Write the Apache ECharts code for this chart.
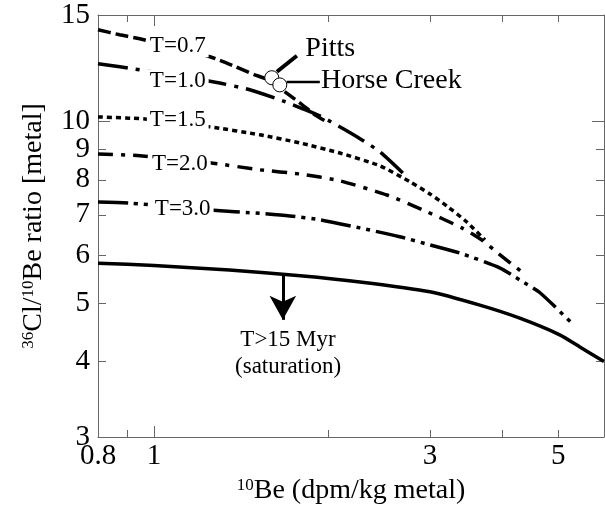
<!DOCTYPE html>
<html><head><meta charset="utf-8">
<script src="https://cdn.jsdelivr.net/npm/echarts@6/dist/echarts.min.js"></script>
<style>html,body{margin:0;padding:0;background:#fff}#c{width:605px;height:510px}</style>
</head><body><div id="c"></div>
<script>
// ---- data (x = 10Be dpm/kg, y = 36Cl/10Be ratio) ----
const xTickMinor = [0.8, 0.9, 2, 3, 4, 5];
const xTickMajor = [1];
const xTickLabels = [0.8, 1, 3, 5];
const yTickMinor = [3, 4, 5, 6, 7, 8, 9, 15];
const yTickMajor = [10];
const yTickLabels = [3, 4, 5, 6, 7, 8, 9, 10, 15];

const curveT07 = [[0.8,14.18],[0.872,13.91],[0.945,13.70],[1.249,12.79],[1.385,12.31],[1.494,11.94],[1.573,11.72],[1.787,10.73],[1.897,10.25],[1.974,10.02]];
const curveT10 = [[0.8,12.46],[0.945,12.17],[1.264,11.63],[1.464,11.28],[1.670,10.81],[1.935,10.21],[2.243,9.43],[2.458,8.90],[2.704,8.18]];
const curveT15 = [[0.8,10.17],[0.964,10.09],[1.249,9.79],[1.524,9.50],[1.787,9.21],[2.096,8.86],[2.458,8.44],[2.770,7.94],[3.0,7.58],[3.209,7.24],[3.475,6.81],[3.734,6.36]];
const curveT20 = [[0.8,8.83],[0.945,8.77],[1.249,8.54],[1.524,8.31],[1.787,8.18],[2.096,7.97],[2.527,7.55],[2.917,7.13],[3.407,6.66],[3.705,6.34],[3.932,6.05],[4.345,5.61]];
const curveT30 = [[0.8,7.35],[0.908,7.32],[1.249,7.13],[1.524,7.04],[1.717,6.97],[1.935,6.87],[2.27,6.66],[2.66,6.44],[3.0,6.24],[3.38,6.05],[3.96,5.72],[4.29,5.46],[4.65,5.20],[5.28,4.63]];
const curveSat = [[0.8,5.82],[1.0,5.77],[1.35,5.67],[1.79,5.55],[2.27,5.42],[3.0,5.22],[3.66,4.96],[4.29,4.72],[5.03,4.43],[5.45,4.23],[6.0,4.0]];

const curveLabels = ['T=0.7','T=1.0','T=1.5','T=2.0','T=3.0'];
const curveLabelX = [1.099, 1.099, 1.099, 1.108, 1.121];
const curveLabelY = [13.34, 11.67, 10.05, 8.50, 7.16];

const meteorNames = ['Pitts', 'Horse Creek'];
const meteorX = [1.598, 1.650];
const meteorY = [11.81, 11.49];
const pittsLeader = [[1.631,12.08],[1.766,12.84]];
const horseLeader = [[1.696,11.62],[1.935,11.62]];
const pittsTextPos = [1.823, 13.19];
const horseTextPos = [1.94, 11.68];

const satArrow = [[1.67,5.56],[1.67,4.69]];
const satText = 'T>15 Myr\n(saturation)';
const satTextPos = [1.705, 4.13];

// ---- styling ----
const FONT = '"Liberation Serif","Times New Roman",serif';
const AXC = '#666';
const CLEAR = 'rgba(0,0,0,0)';
const supRich = { sup: { fontSize: 17, fontFamily: FONT, color: '#000', verticalAlign: 'top', padding: [0,0,0,0] } };

function xAx(pos, ticks, len, labels, line, extra) {
  return Object.assign({
    type: 'log', logBase: 10, min: 0.8, max: 6, position: pos,
    axisLine: { show: line, lineStyle: { color: AXC, width: 1 } },
    axisTick: { show: true, inside: true, length: len, customValues: ticks, lineStyle: { color: AXC, width: 1 } },
    axisLabel: labels ? { show: true, customValues: labels, fontFamily: FONT, fontSize: 29, color: '#000', margin: 5 } : { show: false },
    splitLine: { show: false }, minorTick: { show: false }
  }, extra || {});
}
function yAx(pos, ticks, len, labels, line, extra) {
  return Object.assign({
    type: 'log', logBase: 10, min: 3, max: 15, position: pos,
    axisLine: { show: line, lineStyle: { color: AXC, width: 1 } },
    axisTick: { show: true, inside: true, length: len, customValues: ticks, lineStyle: { color: AXC, width: 1 } },
    axisLabel: labels ? { show: true, customValues: labels, fontFamily: FONT, fontSize: 29, color: '#000', margin: 8 } : { show: false },
    splitLine: { show: false }, minorTick: { show: false }
  }, extra || {});
}

function curve(name, data, dash) {
  return {
    name, type: 'line', data, showSymbol: false, symbol: 'none', smooth: 0.2,
    lineStyle: { color: '#000', width: 3.5, type: dash, cap: 'butt' }, z: 2, silent: true
  };
}
function textSeries(data, label, z) {
  return {
    type: 'scatter', z: z || 6, silent: true, symbol: 'circle', symbolSize: 1,
    itemStyle: { color: CLEAR, borderWidth: 0, opacity: 1 },
    label: Object.assign({ show: true, formatter: '{b}', fontFamily: FONT, color: '#000', textBorderWidth: 0 }, label),
    labelLayout: { hideOverlap: false },
    data
  };
}

const option = {
  animation: false,
  backgroundColor: '#fff',
  grid: { left: 98, right: 1, top: 15, bottom: 73, containLabel: false },
  xAxis: [
    xAx('bottom', xTickMinor, 7, xTickLabels, true, {
      name: '{sup|10}Be (dpm/kg metal)', nameLocation: 'middle', nameGap: 40,
      nameTextStyle: { fontFamily: FONT, fontSize: 28, color: '#000', rich: supRich }
    }),
    xAx('bottom', xTickMajor, 11, null, false),
    xAx('top', xTickMinor, 7, null, true),
    xAx('top', xTickMajor, 11, null, false)
  ],
  yAxis: [
    yAx('left', yTickMinor, 8, yTickLabels, true, {
      name: '{sup|36}Cl/{sup|10}Be ratio [metal]', nameLocation: 'middle', nameGap: 50,
      nameTextStyle: { fontFamily: FONT, fontSize: 28, color: '#000', rich: supRich }
    }),
    yAx('left', yTickMajor, 12, null, false),
    yAx('right', yTickMinor, 8, null, true),
    yAx('right', yTickMajor, 12, null, false)
  ],
  series: [
    curve('T=0.7', curveT07, [13, 5]),
    curve('T=1.0', curveT10, [30, 8, 4, 8]),
    curve('T=1.5', curveT15, [5, 4]),
    curve('T=2.0', curveT20, [15, 8, 4, 8]),
    curve('T=3.0', curveT30, [30, 6, 4, 6, 4, 6]),
    Object.assign(curve('saturation', curveSat, 'solid'), {
      markLine: {
        silent: true, symbol: ['none', 'arrow'], symbolSize: [20, 24],
        lineStyle: { color: '#000', width: 3, type: 'solid' }, label: { show: false },
        data: [[{ coord: satArrow[0] }, { coord: satArrow[1] }]]
      }
    }),
    { type: 'line', data: pittsLeader, showSymbol: false, symbol: 'none', lineStyle: { color: '#000', width: 4 }, z: 3, silent: true },
    { type: 'line', data: horseLeader, showSymbol: false, symbol: 'none', lineStyle: { color: '#000', width: 2.5 }, z: 3, silent: true },
    {
      type: 'scatter', z: 5, silent: true, symbol: 'circle', symbolSize: 14,
      itemStyle: { color: '#fff', borderColor: '#000', borderWidth: 1, opacity: 1 },
      data: meteorNames.map((n, i) => ({ name: n, value: [meteorX[i], meteorY[i]] }))
    },
    textSeries(curveLabels.map((n, i) => ({ name: n, value: [curveLabelX[i], curveLabelY[i]] })),
      { position: 'inside', fontSize: 23, backgroundColor: '#fff', padding: [0, 3] }),
    textSeries([{ name: meteorNames[0], value: pittsTextPos }, { name: meteorNames[1], value: horseTextPos }],
      { position: 'right', distance: 0, fontSize: 28 }),
    textSeries([{ name: satText, value: satTextPos }],
      { position: 'inside', fontSize: 23, lineHeight: 27, align: 'center' })
  ]
};
const chart = echarts.init(document.getElementById('c'), null, { renderer: 'canvas' });
chart.setOption(option);
</script>
</body></html>
